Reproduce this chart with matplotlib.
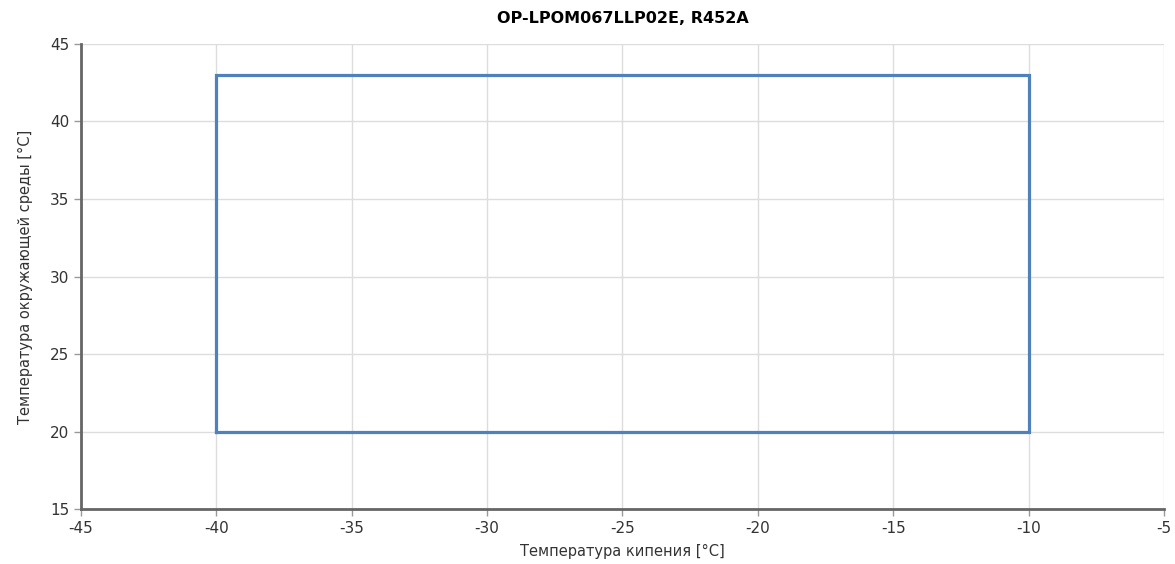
import matplotlib
matplotlib.use("Agg")
import matplotlib.pyplot as plt

plt.rcParams['axes.unicode_minus'] = False

# Рабочая область компрессора
t_kip = [-40, -10, -10, -40, -40]
t_okr = [20, 20, 43, 43, 20]

x_ticks = [-45, -40, -35, -30, -25, -20, -15, -10, -5]
y_ticks = [15, 20, 25, 30, 35, 40, 45]

fig = plt.figure(figsize=(11.75, 5.64), dpi=100)
ax = fig.add_axes([0.0689, 0.0975, 0.9217, 0.8245])

ax.plot(t_kip, t_okr, color='#4f81bd', linewidth=2.3, solid_joinstyle='miter')

ax.set_xlim(-45, -5)
ax.set_ylim(15, 45)
ax.set_xticks(x_ticks)
ax.set_yticks(y_ticks)
ax.grid(True, color='#dddddd', linewidth=1)
ax.set_axisbelow(True)

for s in ['top', 'right']:
    ax.spines[s].set_visible(False)
for s in ['left', 'bottom']:
    ax.spines[s].set_color('#666666')
    ax.spines[s].set_linewidth(2)
ax.tick_params(colors='#999999', labelcolor='#333333', labelsize=11, length=5, width=1)

ax.set_xlabel('Температура кипения [°C]', fontsize=10.5, color='#333333', labelpad=6)
ax.set_ylabel('Температура окружающей среды [°C]', fontsize=10.5, color='#333333', labelpad=12)
ax.set_title('OP-LPOM067LLP02E, R452A', fontsize=11.5, fontweight='bold', pad=15)

fig.savefig('out.png', dpi=100)
